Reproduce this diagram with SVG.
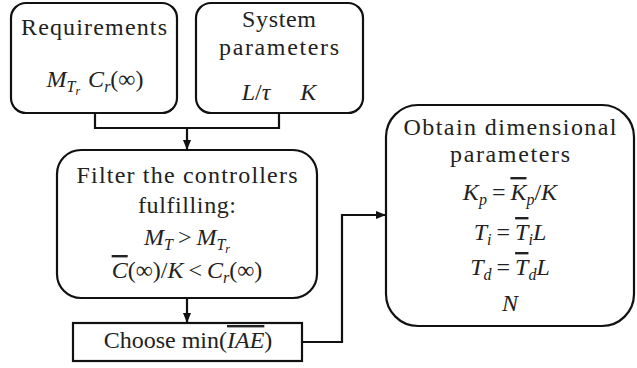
<svg xmlns="http://www.w3.org/2000/svg" width="637" height="368" viewBox="0 0 637 368" font-family="Liberation Serif">
<defs>
<marker id="ah" markerWidth="10" markerHeight="8" refX="9" refY="4" orient="auto" markerUnits="userSpaceOnUse">
<path d="M0,0 L10,4 L0,8 Z" fill="#111"/>
</marker>
<style>
.box{fill:#fff;stroke:#111;stroke-width:2.2}
.c{fill:none;stroke:#111;stroke-width:2.2}
</style>
</defs>
<rect width="637" height="368" fill="#fff"/>
<g id="connectors">
<path class="c" d="M95,113 V128 H279 V113"/>
<path class="c" d="M187,128 V149" marker-end="url(#ah)"/>
<path class="c" d="M187,298 V322" marker-end="url(#ah)"/>
<path class="c" d="M302,342 H342 V215 H385" marker-end="url(#ah)"/>
</g>
<g id="requirements">
<rect class="box" x="11" y="3" width="166" height="110" rx="15"/>
<text font-family="Liberation Serif" font-size="24" fill="#222" text-anchor="middle" x="94" y="35" textLength="146" lengthAdjust="spacing">Requirements</text>
<text font-family="Liberation Serif" font-size="24" fill="#222" text-anchor="middle" x="95" y="87"><tspan font-style="italic">M</tspan><tspan font-style="italic" font-size="16" dy="5">T</tspan><tspan font-style="italic" font-size="12" dy="3">r</tspan><tspan font-style="italic" dx="8" dy="-8">C</tspan><tspan font-style="italic" font-size="16" dy="5">r</tspan><tspan dy="-5">(∞)</tspan></text>
</g>
<g id="system">
<rect class="box" x="196" y="3" width="167" height="110" rx="15"/>
<text font-family="Liberation Serif" font-size="24" fill="#222" text-anchor="middle" x="279" y="27" textLength="74" lengthAdjust="spacing">System</text>
<text font-family="Liberation Serif" font-size="24" fill="#222" text-anchor="middle" x="279" y="55" textLength="120" lengthAdjust="spacing">parameters</text>
<text font-family="Liberation Serif" font-size="24" fill="#222" text-anchor="middle" x="279" y="100"><tspan font-style="italic">L</tspan>/<tspan font-style="italic">τ</tspan><tspan font-style="italic" dx="30">K</tspan></text>
</g>
<g id="filter">
<rect class="box" x="57" y="150" width="260" height="148" rx="24"/>
<text font-family="Liberation Serif" font-size="24" fill="#222" text-anchor="middle" x="187" y="183" textLength="221" lengthAdjust="spacing">Filter the controllers</text>
<text font-family="Liberation Serif" font-size="24" fill="#222" text-anchor="middle" x="187" y="213" textLength="98" lengthAdjust="spacing">fulfilling:</text>
<text font-family="Liberation Serif" font-size="24" fill="#222" text-anchor="middle" x="187" y="245"><tspan font-style="italic">M</tspan><tspan font-style="italic" font-size="16" dy="5">T</tspan><tspan dx="5" dy="-5">&gt;</tspan><tspan font-style="italic" dx="5">M</tspan><tspan font-style="italic" font-size="16" dy="5">T</tspan><tspan font-style="italic" font-size="12" dy="3">r</tspan></text>
<text font-family="Liberation Serif" font-size="24" fill="#222" text-anchor="middle" x="187" y="278"><tspan font-style="italic" text-decoration="overline">C</tspan>(∞)/<tspan font-style="italic">K</tspan><tspan dx="5">&lt;</tspan><tspan font-style="italic" dx="5">C</tspan><tspan font-style="italic" font-size="16" dy="5">r</tspan><tspan dy="-5">(∞)</tspan></text>
</g>
<g id="choose">
<rect class="box" x="73" y="323" width="229" height="38"/>
<text font-family="Liberation Serif" font-size="24" fill="#222" text-anchor="middle" x="188" y="348">Choose min(<tspan font-style="italic" text-decoration="overline">IAE</tspan>)</text>
</g>
<g id="obtain">
<rect class="box" x="386" y="105" width="248" height="221" rx="32"/>
<text font-family="Liberation Serif" font-size="24" fill="#222" text-anchor="middle" x="510" y="135" textLength="213" lengthAdjust="spacing">Obtain dimensional</text>
<text font-family="Liberation Serif" font-size="24" fill="#222" text-anchor="middle" x="510" y="162" textLength="120" lengthAdjust="spacing">parameters</text>
<text font-family="Liberation Serif" font-size="24" fill="#222" text-anchor="middle" x="510" y="200"><tspan font-style="italic">K</tspan><tspan font-style="italic" font-size="16" dy="5">p</tspan><tspan dx="5" dy="-5">=</tspan><tspan font-style="italic" text-decoration="overline" dx="5">K</tspan><tspan font-style="italic" font-size="16" dy="5">p</tspan><tspan dy="-5">/</tspan><tspan font-style="italic">K</tspan></text>
<text font-family="Liberation Serif" font-size="24" fill="#222" text-anchor="middle" x="510" y="240"><tspan font-style="italic">T</tspan><tspan font-style="italic" font-size="16" dy="5">i</tspan><tspan dx="5" dy="-5">=</tspan><tspan font-style="italic" text-decoration="overline" dx="5">T</tspan><tspan font-style="italic" font-size="16" dy="5">i</tspan><tspan font-style="italic" dy="-5">L</tspan></text>
<text font-family="Liberation Serif" font-size="24" fill="#222" text-anchor="middle" x="510" y="275"><tspan font-style="italic">T</tspan><tspan font-style="italic" font-size="16" dy="5">d</tspan><tspan dx="5" dy="-5">=</tspan><tspan font-style="italic" text-decoration="overline" dx="5">T</tspan><tspan font-style="italic" font-size="16" dy="5">d</tspan><tspan font-style="italic" dy="-5">L</tspan></text>
<text font-family="Liberation Serif" font-size="24" fill="#222" text-anchor="middle" font-style="italic" x="510" y="311">N</text>
</g>
</svg>
